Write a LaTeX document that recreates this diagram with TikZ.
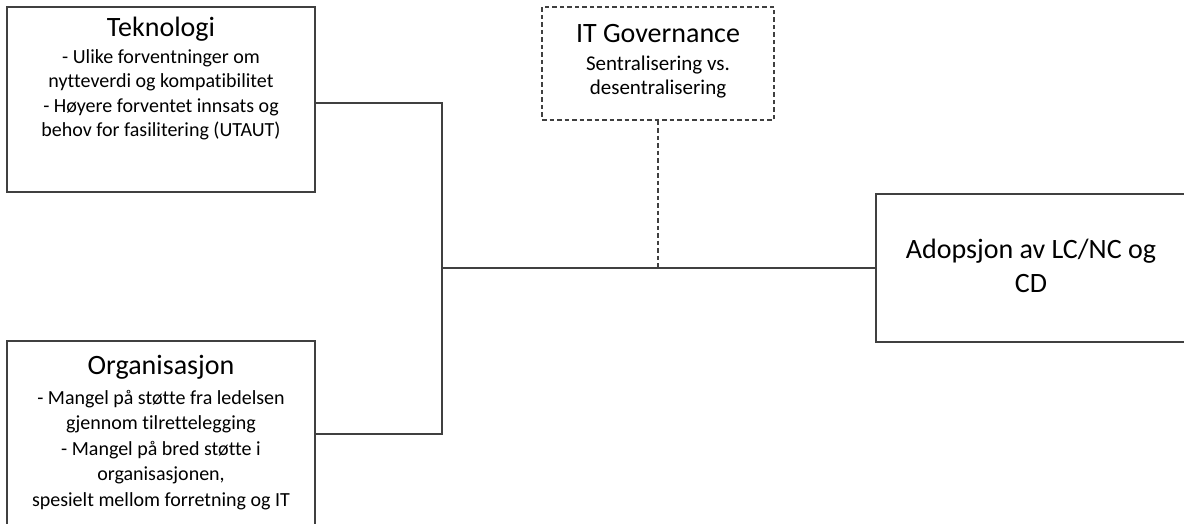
\documentclass[tikz,border=0pt]{standalone}
\usepackage{fontspec}
\setmainfont{Carlito}[Ligatures={NoCommon}]
\tikzset{
  box/.style={draw=black!75, line width=1.2pt, inner sep=0pt, fill=none},
  dbox/.style={box, dash pattern=on 4.5pt off 3pt},
  tline/.style={anchor=base, font=\fontsize{28}{30}\selectfont, inner sep=0pt, text=black},
  bline/.style={anchor=base, font=\fontsize{20}{24}\selectfont, inner sep=0pt, text=black},
  iline/.style={bline, font=\fontsize{21}{24}\selectfont},
  wire/.style={draw=black!75, line width=1.2pt},
  dwire/.style={wire, dash pattern=on 4.5pt off 3pt},
}
\begin{document}
\begin{tikzpicture}[x=1pt,y=-1pt]
\useasboundingbox (0,0) rectangle (1184,524);
\clip (0,0) rectangle (1184,524);
% boxes
\node[box, minimum width=308pt, minimum height=185pt] (tek) at (161,99.5) {};
\node[box, minimum width=308pt, minimum height=200pt] (org) at (161,441) {};
\node[dbox, minimum width=232pt, minimum height=113pt] (itg) at (658,63.5) {};
\node[box, minimum width=314pt, minimum height=148pt] (adop) at (1033,268) {};
% texts
\node[tline] (tek1) at (161,37) {Teknologi};
\node[bline] (tek2) at (161,63.5) {- Ulike forventninger om};
\node[bline] (tek3) at (161,88) {nytteverdi og kompatibilitet};
\node[bline] (tek4) at (161,112.5) {- Høyere forventet innsats og};
\node[bline] (tek5) at (161,137) {behov for fasilitering (UTAUT)};
\node[tline] (org1) at (161,374) {Organisasjon};
\node[bline] (org2) at (161,404) {- Mangel på støtte fra ledelsen};
\node[bline] (org3) at (161,429.5) {gjennom tilrettelegging};
\node[bline] (org4) at (161,455) {- Mangel på bred støtte i};
\node[bline] (org5) at (161,480.5) {organisasjonen,};
\node[bline] (org6) at (161,506) {spesielt mellom forretning og IT};
\node[tline] (itg1) at (658,43) {IT Governance};
\node[iline] (itg2) at (658,71) {Sentralisering vs.};
\node[iline] (itg3) at (658,95) {desentralisering};
\node[tline] (ad1) at (1031,258) {Adopsjon av LC/NC og};
\node[tline] (ad2) at (1031,292) {CD};
% connectors
\coordinate (jt) at (442,103);
\coordinate (jo) at (442,434);
\coordinate (jm) at (442,268);
\draw[wire] ([yshift=-3.5pt]tek.east) -- (jt) -- (jo) -- ([yshift=7pt]org.east);
\draw[wire] (jm) -- (adop.west);
\draw[dwire] (itg.south) -- (itg.south |- jm);
\end{tikzpicture}
\end{document}
